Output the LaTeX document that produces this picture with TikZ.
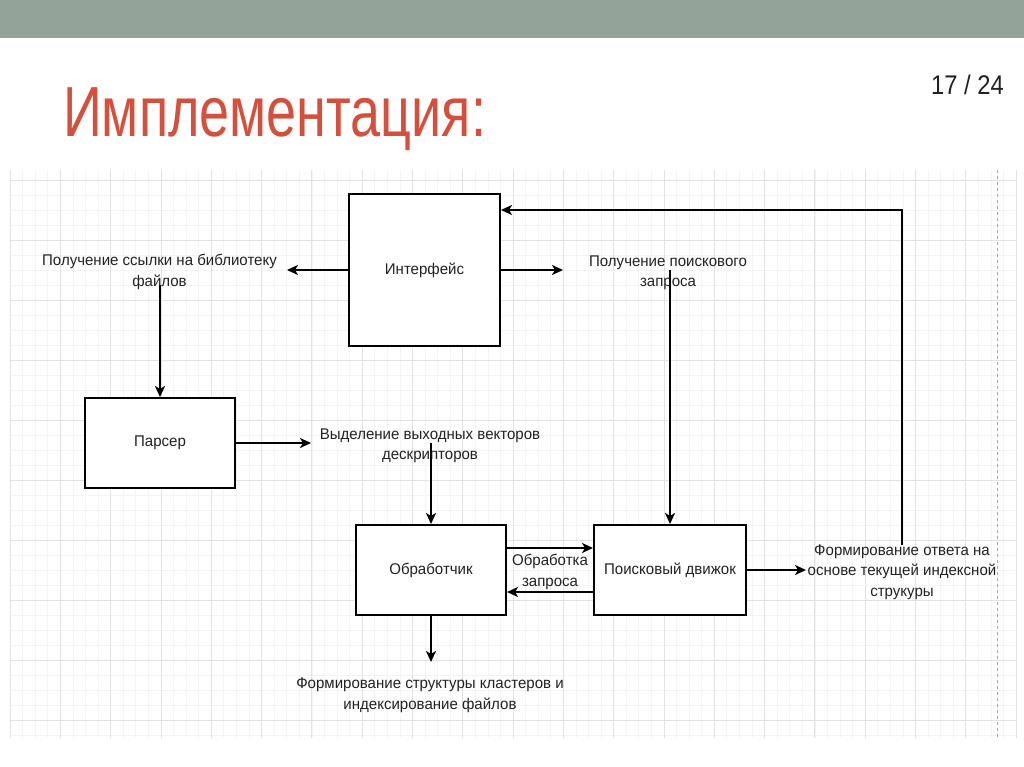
\documentclass[tikz,border=0pt]{standalone}
\usepackage{fontspec}
\setmainfont{Liberation Sans}
\newfontfamily\titlefont[FakeStretch=0.76]{Liberation Sans}
\newfontfamily\pagefont[FakeStretch=0.88]{Liberation Sans}
\newfontfamily\boxfont[FakeStretch=0.97]{Liberation Sans}
\usetikzlibrary{arrows.meta, positioning}

\definecolor{barGray}{HTML}{93A39A}
\definecolor{titleRed}{HTML}{D4503C}
\definecolor{gridMajor}{HTML}{E2E2E2}
\definecolor{gridMinor}{HTML}{F4F4F4}
\definecolor{textDark}{HTML}{222222}

\tikzset{
    block/.style={draw, line width=2pt, fill=white, minimum width=150pt,
        minimum height=90pt, inner sep=0pt, text=textDark,
        font=\boxfont\fontsize{15.5}{20}\selectfont},
    note/.style={align=center, inner sep=0pt, text=textDark,
        font=\boxfont\fontsize{15.5}{20.5}\selectfont},
    flow/.style={-{Stealth[length=11pt, width=10pt, inset=3pt]}, line width=2pt},
}

\begin{document}
\begin{tikzpicture}[x=1pt, y=-1pt]
    \useasboundingbox (0, 0) rectangle (1024, 767);
    \fill[white] (0, 0) rectangle (1024, 767);
    \fill[barGray] (0, 0) rectangle (1024, 38);

    % background grid
    \foreach \gx in {0, ..., 80}
        \draw[gridMinor, line width=0.6pt] ({10 + 12.575*\gx}, 170) -- ({10 + 12.575*\gx}, 738);
    \foreach \gy in {0, ..., 37}
        \draw[gridMinor, line width=0.6pt] (10, {180 + 15*\gy}) -- (1016, {180 + 15*\gy});
    \foreach \gx in {0, ..., 20}
        \draw[gridMajor, line width=0.8pt] ({10 + 50.3*\gx}, 170) -- ({10 + 50.3*\gx}, 738);
    \foreach \gy in {0, ..., 9}
        \draw[gridMajor, line width=0.8pt] (10, {180 + 60*\gy}) -- (1016, {180 + 60*\gy});
    \draw[gray!70, dashed, line width=0.8pt] (997, 170) -- (997, 738);

    % title and page number
    \node[anchor=base west, inner sep=0pt, text=titleRed,
        font=\titlefont\fontsize{71}{80}\selectfont] (title) at (63, 137) {Имплементация:};
    \node[anchor=base east, inner sep=0pt, text=textDark,
        font=\pagefont\fontsize{27}{30}\selectfont] (page) at (1004, 95) {17 / 24};

    % blocks
    \node[block, minimum width=151pt, minimum height=152pt] (iface) at (424.5, 270) {Интерфейс};
    \node[block] (parser) at (160, 443) {Парсер};
    \node[block] (handler) at (431, 570) {Обработчик};
    \node[block, minimum width=152pt] (engine) at (670, 570) {Поисковый движок};

    % labels
    \node[note] (libref) at (159.5, 272) {Получение ссылки на библиотеку\\файлов};
    \node[note] (query) at (668, 273) {Получение поискового\\запроса};
    \node[note] (vectors) at (430, 446) {Выделение выходных векторов\\дескрипторов};
    \node[note] (request) at (550, 572) {Обработка\\запроса};
    \node[note] (answer) at (902, 572) {Формирование ответа на\\основе текущей индексной\\струкуры};
    \node[note] (clusters) at (430, 695) {Формирование структуры кластеров и\\индексирование файлов};

    % connector ends
    \coordinate (librefTip) at (287, 270);
    \coordinate (librefOut) at (160, 285);
    \coordinate (queryTip) at (563, 270);
    \coordinate (queryOut) at (670, 270);
    \coordinate (vectorsTip) at (311, 443);
    \coordinate (vectorsOut) at (431, 443);
    \coordinate (answerTip) at (806, 570);
    \coordinate (answerOut) at (902, 545);
    \coordinate (answerTurn) at (902, 210);
    \coordinate (clustersTip) at (431, 662);

    % connectors
    \draw[flow] (iface.west) -- (librefTip);
    \draw[flow] (librefOut) -- (parser.north);
    \draw[flow] (iface.east) -- (queryTip);
    \draw[flow] (queryOut) -- (engine.north);
    \draw[flow] (parser.east) -- (vectorsTip);
    \draw[flow] (vectorsOut) -- (handler.north);
    \draw[flow] ([yshift=22pt]handler.east) -- ([yshift=22pt]engine.west);
    \draw[flow] ([yshift=-22pt]engine.west) -- ([yshift=-22pt]handler.east);
    \draw[flow] (engine.east) -- (answerTip);
    \draw[flow] (answerOut) -- (answerTurn) -- (answerTurn -| iface.east);
    \draw[flow] (handler.south) -- (clustersTip);
\end{tikzpicture}
\end{document}
